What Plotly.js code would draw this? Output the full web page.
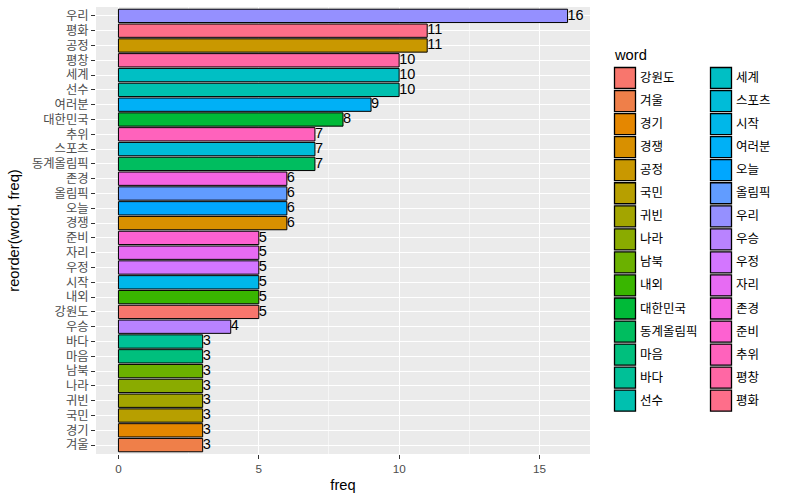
<!DOCTYPE html>
<html>
<head>
<meta charset="utf-8">
<script src="https://cdn.plot.ly/plotly-3.0.1.min.js"></script>
<style>html,body{margin:0;padding:0;background:#fff;}#chart{width:800px;height:500px;}</style>
</head>
<body>
<div id="chart"></div>
<script>
// Bars, top to bottom
const words = ["우리","평화","공정","평창","세계","선수","여러분","대한민국","추위","스포츠","동계올림픽","존경","올림픽","오늘","경쟁","준비","자리","우정","시작","내외","강원도","우승","바다","마음","남북","나라","귀빈","국민","경기","겨울"];
const freq = [16,11,11,10,10,10,9,8,7,7,7,6,6,6,6,5,5,5,5,5,5,4,3,3,3,3,3,3,3,3];
// Legend (factor level) order
const legendWords = ["강원도","겨울","경기","경쟁","공정","국민","귀빈","나라","남북","내외","대한민국","동계올림픽","마음","바다","선수","세계","스포츠","시작","여러분","오늘","올림픽","우리","우승","우정","자리","존경","준비","추위","평창","평화"];
const xTicks = [0,5,10,15];
const legendTitle = "word";
const xTitle = "freq";
const yTitle = "reorder(word, freq)";

// ggplot2 hue palette (HCL, c=100, l=65)
function hcl(h, c, l) {
  const hr = h * Math.PI / 180;
  const U = c * Math.cos(hr), V = c * Math.sin(hr);
  const Xn = 95.047, Yn = 100, Zn = 108.883;
  const den = Xn + 15 * Yn + 3 * Zn;
  const un = 4 * Xn / den, vn = 9 * Yn / den;
  const Y = l > 8 ? Yn * Math.pow((l + 16) / 116, 3) : Yn * l / 903.3;
  const u = U / (13 * l) + un, v = V / (13 * l) + vn;
  const X = 9 * Y * u / (4 * v);
  const Z = -X / 3 - 5 * Y + 3 * Y / v;
  const x = X / 100, y = Y / 100, z = Z / 100;
  const lin = [
    3.240479 * x - 1.537150 * y - 0.498535 * z,
    -0.969256 * x + 1.875992 * y + 0.041556 * z,
    0.055648 * x - 0.204043 * y + 1.057311 * z
  ];
  const out = lin.map(t => {
    let g = t <= 0.0031308 ? 12.92 * t : 1.055 * Math.pow(t, 1 / 2.4) - 0.055;
    g = Math.max(0, Math.min(1, g));
    return Math.round(g * 255);
  });
  return "rgb(" + out.join(",") + ")";
}
const n = legendWords.length;
const palette = legendWords.map((w, i) => hcl(15 + 360 / n * i, 100, 65));
const colorOf = w => palette[legendWords.indexOf(w)];

const FONT = "Liberation Sans, Arial, Noto Sans CJK KR, sans-serif";

const bars = {
  type: "bar", orientation: "h",
  x: freq, y: words, width: 0.9,
  marker: { color: words.map(colorOf), line: { color: "black", width: 1 } },
  hoverinfo: "skip", showlegend: false
};
const labels = {
  type: "scatter", mode: "text",
  x: freq, y: words, text: freq.map(String),
  textposition: "middle right",
  textfont: { family: FONT, size: 14.5, color: "black" },
  cliponaxis: false, hoverinfo: "skip", showlegend: false
};

// plot area in px
const L = 96, R = 590, T = 7, B = 454, W = 800, H = 500;
const px = x => (x - L) / (R - L);
const py = y => 1 - (y - T) / (B - T);

const shapes = [], annotations = [];
annotations.push({ xref: "paper", yref: "paper", x: px(612), y: py(55), xanchor: "left", yanchor: "middle",
  text: legendTitle, showarrow: false, font: { family: FONT, size: 14.7, color: "black" } });
const rows = Math.ceil(n / 2);
legendWords.forEach((w, i) => {
  const c = Math.floor(i / rows), r = i % rows;
  const x0 = 614.5 + c * 96, y0 = 67.5 + r * 23.05, s = 21;
  shapes.push({ type: "rect", xref: "paper", yref: "paper",
    x0: px(x0), x1: px(x0 + s), y0: py(y0), y1: py(y0 + s),
    fillcolor: palette[i], line: { color: "black", width: 1.3 } });
  annotations.push({ xref: "paper", yref: "paper", x: px(x0 + s + 2), y: py(y0 + s / 2), xanchor: "left", yanchor: "middle",
    text: w, showarrow: false, font: { family: FONT, size: 12.5, color: "black" } });
});

const layout = {
  width: W, height: H,
  margin: { l: L, r: W - R, t: T, b: H - B, pad: 0 },
  paper_bgcolor: "white", plot_bgcolor: "#EBEBEB",
  showlegend: false,
  font: { family: FONT, color: "#4D4D4D" },
  xaxis: {
    range: [-0.8, 16.8], tickvals: xTicks, ticktext: xTicks.map(String),
    showgrid: true, gridcolor: "white", gridwidth: 1.07, zeroline: false,
    minor: { dtick: 2.5, tick0: 0, showgrid: true, gridcolor: "white", gridwidth: 0.53, ticklen: 0 },
    ticks: "outside", ticklen: 4, tickcolor: "#333333", tickwidth: 1,
    tickfont: { family: FONT, size: 11.7, color: "#4D4D4D" },
    showline: false,
    title: { text: xTitle, font: { family: FONT, size: 14.7, color: "black" }, standoff: 5 }
  },
  yaxis: {
    type: "category", categoryorder: "array", categoryarray: words.slice().reverse(),
    range: [-0.6, 29.6],
    tickmode: "linear", tick0: 0, dtick: 1,
    showgrid: true, gridcolor: "white", gridwidth: 1.07, zeroline: false,
    ticks: "outside", ticklen: 4, tickcolor: "#333333", tickwidth: 1,
    tickfont: { family: FONT, size: 12.3, color: "#4D4D4D" },
    showline: false,
    title: { text: yTitle, font: { family: FONT, size: 14.7, color: "black" }, standoff: 8 }
  },
  shapes: shapes,
  annotations: annotations
};

Plotly.newPlot("chart", [bars, labels], layout, { staticPlot: true, displayModeBar: false });
</script>
</body>
</html>
